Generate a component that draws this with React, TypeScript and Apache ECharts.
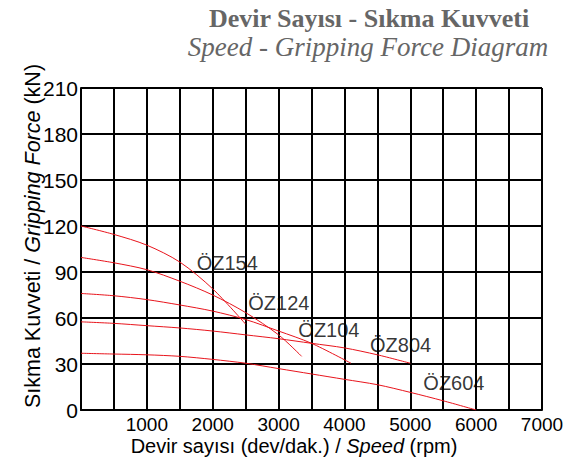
import React, { useEffect, useRef } from "react";
import * as echarts from "echarts";

// Data
const speedOZ154 = [0, 500, 1000, 1500, 2000, 2500];
const forceOZ154 = [120, 114.5, 107.5, 96.5, 79, 56];

const speedOZ124 = [0, 500, 1000, 1500, 2000, 2500, 3000, 3350];
const forceOZ124 = [99.5, 96, 91.5, 84, 75, 63.5, 49, 35];

const speedOZ104 = [0, 500, 1000, 1500, 2000, 2500, 3000, 3500, 4100];
const forceOZ104 = [76, 74.5, 72, 68.5, 64.5, 59, 51.5, 43.5, 30.5];

const speedOZ804 = [0, 500, 1000, 1500, 2000, 2500, 3000, 3500, 4000, 4500, 5000];
const forceOZ804 = [57.5, 56.5, 55, 53.5, 51.5, 49, 46.5, 43.5, 40.5, 36, 30.5];

const speedOZ604 = [0, 500, 1000, 1500, 2000, 2500, 3000, 3500, 4000, 4500, 5000, 5500, 6000];
const forceOZ604 = [37, 36.5, 36, 35, 33, 30.5, 27, 23.5, 20, 16.5, 11.5, 6, 0];

const modelNames = ["ÖZ154", "ÖZ124", "ÖZ104", "ÖZ804", "ÖZ604"];
const labelSpeeds = [1757, 2540, 3300, 4388, 5198];
const labelForces = [95.9, 69.8, 52.2, 42.4, 17.4];

const curves = [
  [speedOZ154, forceOZ154],
  [speedOZ124, forceOZ124],
  [speedOZ104, forceOZ104],
  [speedOZ804, forceOZ804],
  [speedOZ604, forceOZ604],
];

const SANS = '"Liberation Sans", Arial, sans-serif';
const SERIF = '"Liberation Serif", "Times New Roman", serif';

export default function App() {
  const ref = useRef<HTMLDivElement>(null);
  useEffect(() => {
    document.body.style.margin = "0";
    if (!ref.current) return;
    const chart = echarts.init(ref.current, null, { renderer: "svg" });
    const lineSeries = curves.map((c, i) => ({
      type: "line",
      name: modelNames[i],
      data: c[0].map((s, j) => [s, c[1][j]]),
      smooth: 0.3,
      showSymbol: false,
      symbol: "none",
      lineStyle: { color: "#e8141c", width: 1 },
      z: 5,
    }));
    const option = {
      animation: false,
      grid: { left: 81, right: 28, top: 88, bottom: 57 },
      xAxis: {
        type: "value",
        min: 0,
        max: 7000,
        interval: 500,
        axisLine: { show: true, lineStyle: { color: "#000", width: 2 } },
        axisTick: { show: false },
        splitLine: { show: true, lineStyle: { color: "#000", width: 2 } },
        axisLabel: {
          formatter: (v: number) => (v !== 0 && v % 1000 === 0 ? String(v) : ""),
          fontSize: 19,
          color: "#000",
          fontFamily: SANS,
          margin: 5,
          hideOverlap: false,
        },
      },
      yAxis: {
        type: "value",
        min: 0,
        max: 210,
        interval: 30,
        axisLine: { show: true, lineStyle: { color: "#000", width: 2 } },
        axisTick: { show: false },
        splitLine: { show: true, lineStyle: { color: "#000", width: 2 } },
        axisLabel: {
          fontSize: 21,
          color: "#000",
          fontFamily: SANS,
          margin: 3,
        },
      },
      graphic: [
        {
          type: "text",
          x: 369,
          y: 5,
          style: {
            text: "Devir Sayısı - Sıkma Kuvveti",
            fill: "#666",
            font: `bold 26px ${SERIF}`,
            textAlign: "center",
            textVerticalAlign: "top",
          },
        },
        {
          type: "text",
          x: 368,
          y: 33,
          style: {
            text: "Speed - Gripping Force Diagram",
            fill: "#666",
            font: `italic 27px ${SERIF}`,
            textAlign: "center",
            textVerticalAlign: "top",
          },
        },
        {
          type: "text",
          x: 294,
          y: 446,
          style: {
            text: "{a|Devir sayısı (dev/dak.) / }{b|Speed}{a| (rpm)}",
            textAlign: "center",
            textVerticalAlign: "middle",
            rich: {
              a: { fontSize: 20, fontFamily: SANS, fill: "#000" },
              b: { fontSize: 20, fontFamily: SANS, fontStyle: "italic", fill: "#000" },
            },
          },
        },
        {
          type: "text",
          x: 33,
          y: 236,
          rotation: Math.PI / 2,
          style: {
            text: "{a|Sıkma Kuvveti / }{b|Gripping Force}{a| (kN)}",
            textAlign: "center",
            textVerticalAlign: "middle",
            rich: {
              a: { fontSize: 21.5, fontFamily: SANS, fill: "#000" },
              b: { fontSize: 21.5, fontFamily: SANS, fontStyle: "italic", fill: "#000" },
            },
          },
        },
      ],
      series: [
        ...lineSeries,
        {
          type: "scatter",
          symbolSize: 0,
          silent: true,
          z: 10,
          data: modelNames.map((n, i) => ({ name: n, value: [labelSpeeds[i], labelForces[i]] })),
          label: {
            show: true,
            position: "right",
            distance: 0,
            formatter: (p: any) => p.name,
            fontSize: 20,
            color: "#000",
            fontFamily: SANS,
          },
        },
      ],
    };
    chart.setOption(option as any);
    return () => chart.dispose();
  }, []);
  return <div ref={ref} style={{ width: 570, height: 467 }} />;
}
